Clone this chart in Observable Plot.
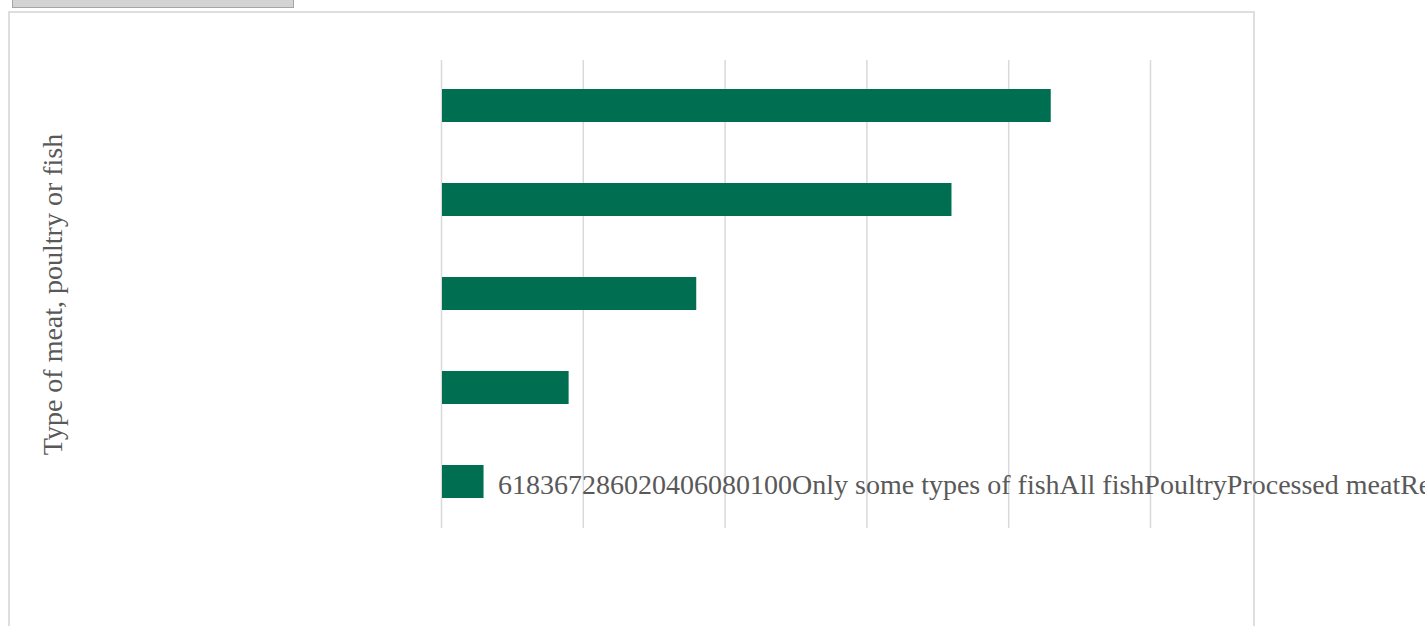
<!DOCTYPE html>
<html>
<head>
<meta charset="utf-8">
<script src="https://cdn.jsdelivr.net/npm/d3@7"></script>
<script src="https://cdn.jsdelivr.net/npm/@observablehq/plot@0.6"></script>
<style>
  html, body { margin: 0; padding: 0; background: #fff; overflow: hidden; }
  #page { position: relative; width: 1425px; height: 626px; }
  #tab {
    position: absolute; left: 12px; top: -20px; width: 280px; height: 26px;
    background: #d3d3d3; border: 1px solid #a6a6a6; box-sizing: content-box;
  }
  #frame {
    position: absolute; left: 8px; top: 11px; width: 1243px; height: 640px;
    border: 2px solid #dedede; pointer-events: none;
  }
  #chart { position: absolute; left: 0; top: 0; }
</style>
</head>
<body>
<div id="page">
  <div id="tab"></div>
  <div id="frame"></div>
  <div id="chart"></div>
</div>
<script>
// Share of respondents by type of meat, poultry or fish
const categories = ["Only some types of fish", "All fish", "Poultry", "Processed meat", "Red meat"];
const values = [6, 18, 36, 72, 86];
const ticks = [0, 20, 40, 60, 80, 100];
const axisTitle = "Type of meat, poultry or fish";

const rows = categories.map((c, i) => ({category: c, value: values[i]}));

// All labels run together as one line of text after the shortest bar
const runLabel = values.join("") + ticks.join("") + categories.join("");

const textColor = "#595959";
const fontSize = 28;

const chart = Plot.plot({
  width: 1425,
  height: 626,
  marginLeft: 441,
  marginRight: 275,
  marginTop: 60,
  marginBottom: 98,
  style: {background: "none", fontFamily: "'Liberation Serif', 'Times New Roman', serif", fontSize: fontSize + "px", color: textColor, overflow: "hidden"},
  x: {domain: [0, 100], axis: null},
  y: {domain: categories.slice().reverse(), range: [58, 528], paddingInner: 0.65, paddingOuter: 0.325, axis: null},
  marks: [
    Plot.gridX(ticks, {stroke: "#d9d9d9", strokeOpacity: 1, strokeWidth: 1.5}),
    Plot.barX(rows, {y: "category", x: "value", fill: "#006f51", insetLeft: 1}),
    Plot.axisY({
      ticks: [],
      tickSize: 0,
      label: axisTitle,
      labelAnchor: "center",
      labelOffset: 399,
      fill: textColor,
      fontSize: fontSize
    }),
    Plot.text([rows[0]], {
      x: "value",
      y: "category",
      text: () => runLabel,
      textAnchor: "start",
      dx: 14,
      dy: 3,
      fill: textColor,
      fontSize: fontSize
    })
  ]
});

document.getElementById("chart").appendChild(chart);
</script>
</body>
</html>
